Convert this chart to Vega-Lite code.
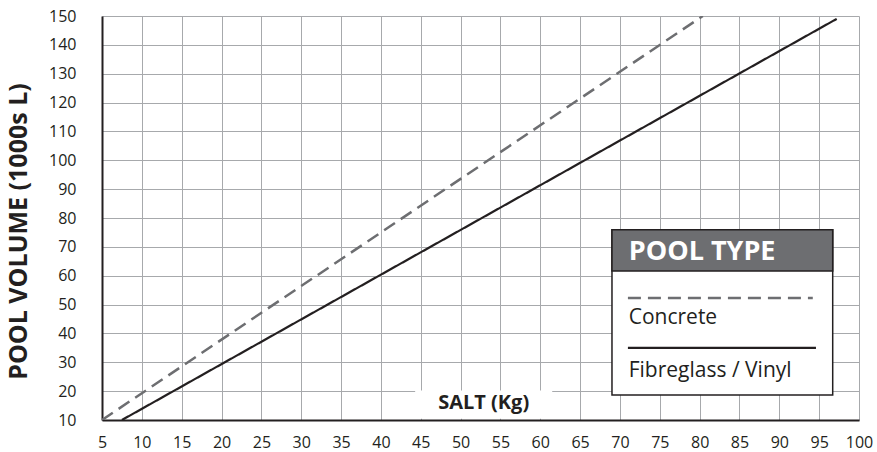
{
  "$schema": "https://vega.github.io/schema/vega-lite/v6.json",
  "width": 757,
  "height": 404,
  "autosize": {"type": "none"},
  "padding": {"left": 102, "top": 16, "right": 18, "bottom": 32},
  "background": "white",
  "config": {
    "view": {"stroke": null},
    "font": "Open Sans",
    "axis": {
      "gridColor": "#a7a9ac",
      "gridWidth": 1,
      "gridOpacity": 1,
      "domainColor": "#231f20",
      "domainWidth": 2,
      "ticks": false,
      "tickSize": 0,
      "tickCount": 40,
      "labelFont": "Open Sans",
      "labelFontSize": 16,
      "labelColor": "#231f20",
      "labelOverlap": false
    }
  },
  "data": {
    "values": [
      {"type": "Concrete", "salt": 5, "volume": 10},
      {"type": "Concrete", "salt": 80.4, "volume": 150},
      {"type": "Fibreglass / Vinyl", "salt": 7.5, "volume": 10},
      {"type": "Fibreglass / Vinyl", "salt": 97.2, "volume": 149}
    ]
  },
  "layer": [
    {
      "mark": {"type": "line", "clip": true},
      "encoding": {
        "x": {
          "field": "salt", "type": "quantitative",
          "scale": {"domain": [5, 100], "nice": false, "zero": false},
          "axis": {"values": [5,10,15,20,25,30,35,40,45,50,55,60,65,70,75,80,85,90,95,100], "tickCount": 40, "title": null, "labelPadding": 14, "labelFlush": false}
        },
        "y": {
          "field": "volume", "type": "quantitative",
          "scale": {"domain": [10, 150], "nice": false, "zero": false},
          "axis": {"values": [10,20,30,40,50,60,70,80,90,100,110,120,130,140,150], "tickCount": 40, "title": "POOL VOLUME (1000s L)", "titleFont": "Open Sans", "titleFontSize": 25, "titleFontWeight": "bold", "titleColor": "#231f20", "titlePadding": 17, "titleY": 215, "labelPadding": 26, "labelFlush": false}
        },
        "color": {"field": "type", "type": "nominal", "scale": {"domain": ["Concrete", "Fibreglass / Vinyl"], "range": ["#6d6e71", "#231f20"]}, "legend": null},
        "strokeDash": {"field": "type", "type": "nominal", "scale": {"domain": ["Concrete", "Fibreglass / Vinyl"], "range": [[13, 7], [1, 0]]}, "legend": null},
        "strokeWidth": {"field": "type", "type": "nominal", "scale": {"domain": ["Concrete", "Fibreglass / Vinyl"], "range": [2.5, 2.2]}, "legend": null}
      }
    },
    {
      "data": {"values": [{}]},
      "mark": {"type": "rect", "fill": "white"},
      "encoding": {
        "x": {"datum": 44.3, "type": "quantitative"},
        "x2": {"datum": 61.5},
        "y": {"datum": 10.4, "type": "quantitative"},
        "y2": {"datum": 20.25}
      }
    },
    {
      "data": {"values": [{"label": "SALT (Kg)"}]},
      "mark": {"type": "text", "font": "Open Sans", "fontWeight": "bold", "fontSize": 20, "color": "#231f20", "align": "center", "baseline": "middle"},
      "encoding": {
        "x": {"datum": 52.9, "type": "quantitative"},
        "y": {"datum": 15.9, "type": "quantitative"},
        "text": {"field": "label"}
      }
    },
    {
      "data": {"values": [{}]},
      "mark": {"type": "rect", "fill": "white", "stroke": "#231f20", "strokeWidth": 1.5},
      "encoding": {
        "x": {"datum": 69.0, "type": "quantitative"},
        "x2": {"datum": 96.7},
        "y": {"datum": 18.7, "type": "quantitative"},
        "y2": {"datum": 75.9}
      }
    },
    {
      "data": {"values": [{}]},
      "mark": {"type": "rect", "fill": "#6d6e71", "stroke": "#231f20", "strokeWidth": 1.5},
      "encoding": {
        "x": {"datum": 69.0, "type": "quantitative"},
        "x2": {"datum": 96.7},
        "y": {"datum": 61.6, "type": "quantitative"},
        "y2": {"datum": 75.9}
      }
    },
    {
      "data": {"values": [{"label": "POOL TYPE"}]},
      "mark": {"type": "text", "font": "Open Sans", "fontWeight": "bold", "fontSize": 27, "color": "white", "align": "left", "baseline": "alphabetic"},
      "encoding": {
        "x": {"datum": 71.1, "type": "quantitative"},
        "y": {"datum": 65.6, "type": "quantitative"},
        "text": {"field": "label"}
      }
    },
    {
      "data": {"values": [{}]},
      "mark": {"type": "rule", "color": "#6d6e71", "strokeWidth": 2.5, "strokeDash": [13, 7]},
      "encoding": {
        "x": {"datum": 71.0, "type": "quantitative"},
        "x2": {"datum": 94.2},
        "y": {"datum": 52.3, "type": "quantitative"}
      }
    },
    {
      "data": {"values": [{"label": "Concrete"}]},
      "mark": {"type": "text", "font": "Open Sans", "fontSize": 21, "color": "#231f20", "align": "left", "baseline": "alphabetic"},
      "encoding": {
        "x": {"datum": 71.1, "type": "quantitative"},
        "y": {"datum": 43.3, "type": "quantitative"},
        "text": {"field": "label"}
      }
    },
    {
      "data": {"values": [{}]},
      "mark": {"type": "rule", "color": "#231f20", "strokeWidth": 2.2},
      "encoding": {
        "x": {"datum": 71.0, "type": "quantitative"},
        "x2": {"datum": 94.6},
        "y": {"datum": 35.0, "type": "quantitative"}
      }
    },
    {
      "data": {"values": [{"label": "Fibreglass / Vinyl"}]},
      "mark": {"type": "text", "font": "Open Sans", "fontSize": 21, "color": "#231f20", "align": "left", "baseline": "alphabetic"},
      "encoding": {
        "x": {"datum": 71.1, "type": "quantitative"},
        "y": {"datum": 25.0, "type": "quantitative"},
        "text": {"field": "label"}
      }
    }
  ]
}
